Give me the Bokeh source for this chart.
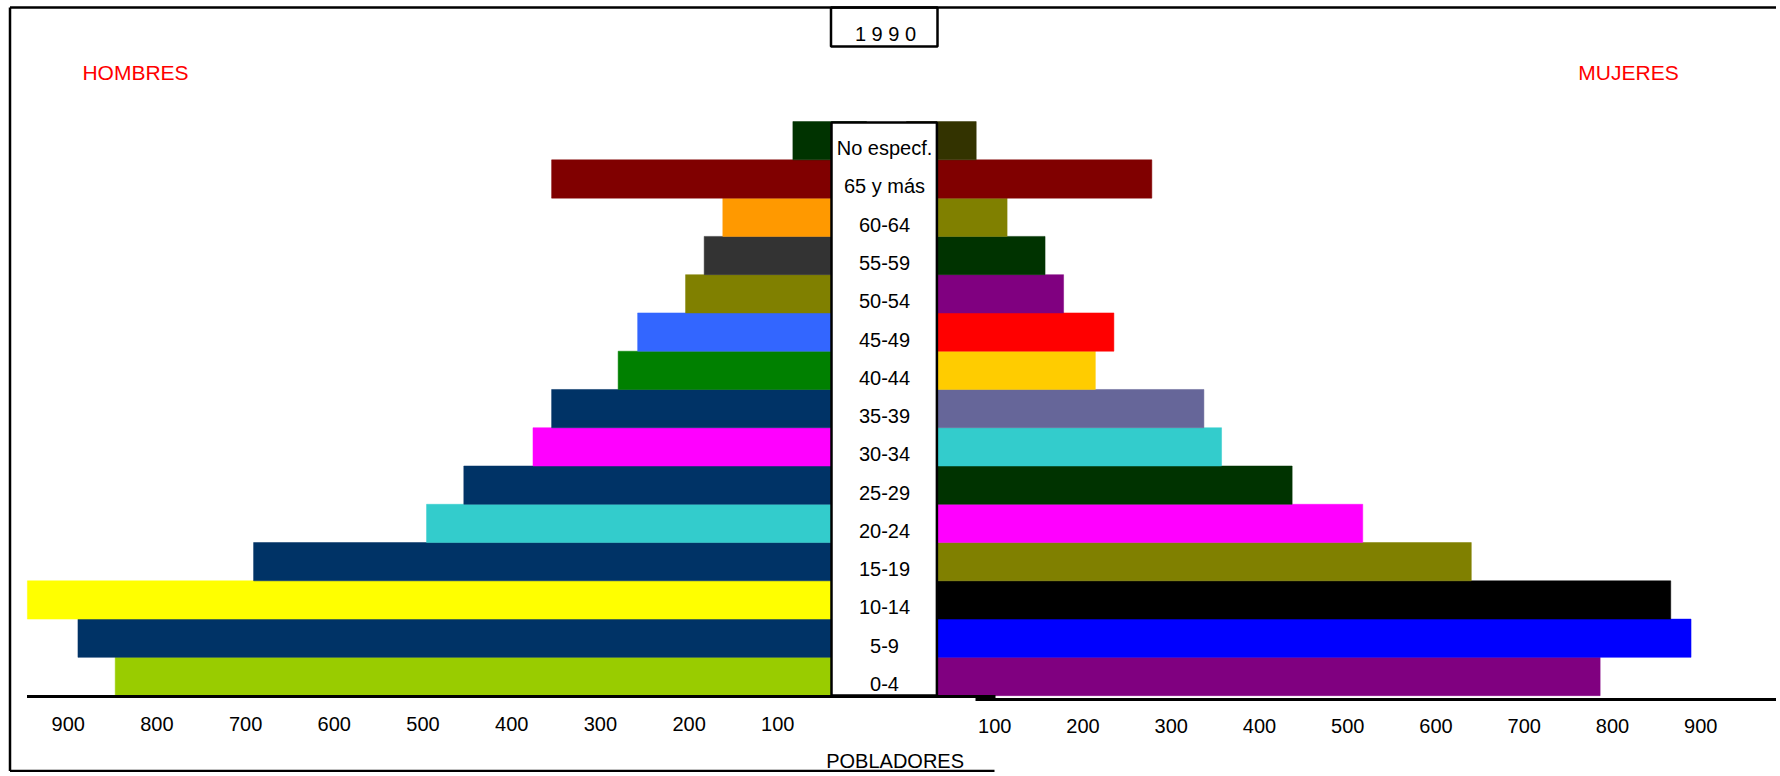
from bokeh.plotting import figure
from bokeh.models import Range1d, BoxAnnotation, ColumnDataSource
from bokeh.core.properties import value
from bokeh.embed import file_html
from bokeh.resources import INLINE

# ---------------- data (bottom to top) ----------------
categories = ["0-4", "5-9", "10-14", "15-19", "20-24", "25-29", "30-34", "35-39",
              "40-44", "45-49", "50-54", "55-59", "60-64", "65 y más", "No especf."]
hombres = [847, 889, 946, 691, 496, 454, 376, 355, 280, 258, 204, 183, 162, 355, 83]
mujeres = [786, 889, 866, 640, 517, 437, 357, 337, 214, 235, 178, 157, 114, 278, 79]
colores_h = ["#99CC00", "#003366", "#FFFF00", "#003366", "#33CCCC", "#003366", "#FF00FF",
             "#003366", "#008000", "#3366FF", "#808000", "#333333", "#FF9900", "#800000",
             "#003300"]
colores_m = ["#800080", "#0000FF", "#000000", "#808000", "#FF00FF", "#003300", "#33CCCC",
             "#666699", "#FFCC00", "#FF0000", "#800080", "#003300", "#808000", "#800000",
             "#333300"]
ticks = [100, 200, 300, 400, 500, 600, 700, 800, 900]
tick_labels = ["100", "200", "300", "400", "500", "600", "700", "800", "900"]
titulo = "1 9 9 0"
lado_h = "HOMBRES"
lado_m = "MUJERES"
eje_titulo = "POBLADORES"

# ---------------- layout scales (reference picture pixels) ----------------
W, H = 1776, 772
RW, RH = W, H                 # figure covers the picture from its top-left corner
K_M, Z_M = 0.887, 866.0       # men: px per unit, x of zero
K_W, Z_W = 0.8825, 906.0      # women: px per unit, x of zero
BAND, Y0 = 38.27, 676.0       # band height, y of first band centre


def mx(px):
    return (Z_M - px) / K_M


def wx(px):
    return (px - Z_W) / K_W


def yd(py):
    return (Y0 - py) / BAND


FONT = value("Liberation Sans")

p = figure(width=W, height=H, output_backend="svg", toolbar_location=None,
           x_axis_type=None, y_axis_type=None, min_border=0,
           x_range=Range1d(mx(0), mx(RW)),
           y_range=Range1d(yd(RH), yd(0)))
p.extra_x_ranges = {"mujeres": Range1d(wx(0), wx(RW))}
p.outline_line_color = None
p.background_fill_color = "white"
p.border_fill_color = "white"

n = len(categories)
ys = list(range(n))

src_h = ColumnDataSource(dict(y=ys, v=hombres, c=colores_h))
src_m = ColumnDataSource(dict(y=ys, v=mujeres, c=colores_m))

p.hbar(y="y", left=0, right="v", height=1.0, fill_color="c", line_color="c",
       line_width=0.5, source=src_h)
p.hbar(y="y", left=0, right="v", height=1.0, fill_color="c", line_color="c",
       line_width=0.5, source=src_m, x_range_name="mujeres")

# axis base lines
r = p.segment(x0=[mx(26.5)], y0=[yd(696)], x1=[mx(995)], y1=[yd(696)],
              line_color="black", line_width=3)
r.level = "overlay"
r = p.segment(x0=[wx(975)], y0=[yd(699)], x1=[wx(RW)], y1=[yd(699)],
              line_color="black", line_width=3, x_range_name="mujeres")
r.level = "overlay"

# centre label column and title box
p.add_layout(BoxAnnotation(left=mx(936.4), right=mx(831), bottom=yd(695), top=yd(122),
                           fill_color="white", fill_alpha=1.0, line_color="black",
                           line_width=2.5, line_alpha=1.0))
p.add_layout(BoxAnnotation(left=mx(937), right=mx(830.5), bottom=yd(46), top=yd(7),
                           fill_color="white", fill_alpha=1.0, line_color="black",
                           line_width=2.5, line_alpha=1.0))

# outer frame
r = p.segment(x0=[mx(9.5), mx(9.5), mx(9.5)],
              y0=[yd(7), yd(7), yd(770.5)],
              x1=[mx(9.5), mx(RW), mx(994)],
              y1=[yd(770.5), yd(7), yd(770.5)],
              line_color="black", line_width=2.5)
r.level = "overlay"

# category labels
r = p.text(x=[mx(884)] * n, y=[i - 7.5 / BAND for i in ys], text=categories,
           text_font=FONT, text_font_size="20px", text_color="black",
           text_align="center", text_baseline="middle")
r.level = "overlay"

# tick labels
r = p.text(x=ticks, y=[yd(723)] * len(ticks), text=tick_labels,
           text_font=FONT, text_font_size="20px", text_color="black",
           text_align="center", text_baseline="middle")
r.level = "overlay"
r = p.text(x=ticks, y=[yd(725)] * len(ticks), text=tick_labels,
           text_font=FONT, text_font_size="20px", text_color="black",
           text_align="center", text_baseline="middle", x_range_name="mujeres")
r.level = "overlay"

# titles
r = p.text(x=[mx(885)], y=[yd(33)], text=[titulo], text_font=FONT,
           text_font_size="20px", text_color="black",
           text_align="center", text_baseline="middle")
r.level = "overlay"
r = p.text(x=[mx(135)], y=[yd(72)], text=[lado_h], text_font=FONT,
           text_font_size="21px", text_color="#FF0000",
           text_align="center", text_baseline="middle")
r.level = "overlay"
r = p.text(x=[mx(1628)], y=[yd(72)], text=[lado_m], text_font=FONT,
           text_font_size="21px", text_color="#FF0000",
           text_align="center", text_baseline="middle")
r.level = "overlay"
r = p.text(x=[mx(894.6)], y=[yd(760)], text=[eje_titulo], text_font=FONT,
           text_font_size="20px", text_color="black",
           text_align="center", text_baseline="middle")
r.level = "overlay"

open("out.html", "w", encoding="utf-8").write(file_html(p, INLINE, title="Pirámide 1990"))
